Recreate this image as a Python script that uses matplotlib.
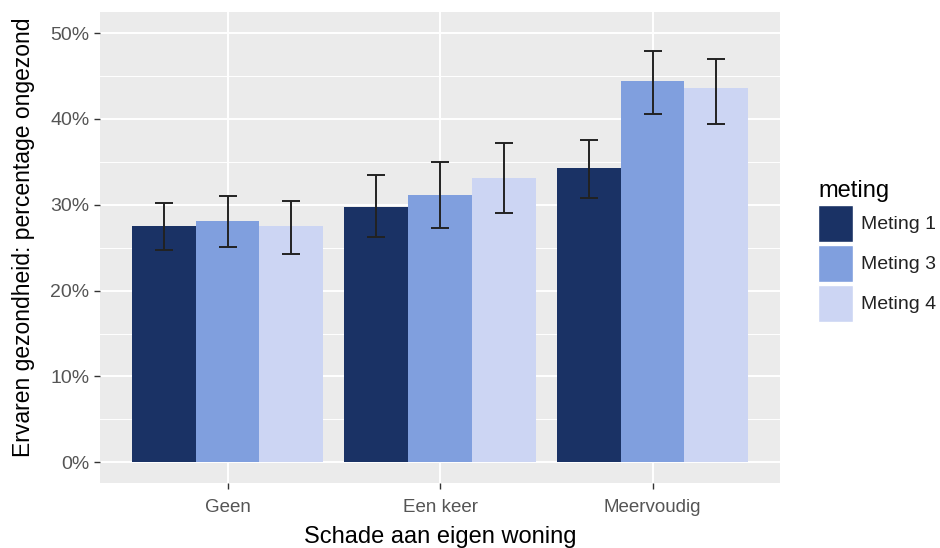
import numpy as np
import matplotlib
matplotlib.use("Agg")
import matplotlib.pyplot as plt
from matplotlib.patches import Patch

plt.rcParams['font.family'] = ['Liberation Sans', 'DejaVu Sans']

############################################
# DATA
############################################

categories = ["Geen", "Een keer", "Meervoudig"]
series = ["Meting 1", "Meting 3", "Meting 4"]

# percentage ongezond per meting, one value per category
pct = {
    "Meting 1": [27.5, 29.7, 34.3],
    "Meting 3": [28.1, 31.1, 44.4],
    "Meting 4": [27.5, 33.1, 43.6],
}
ci_low = {
    "Meting 1": [24.7, 26.3, 30.8],
    "Meting 3": [25.1, 27.3, 40.6],
    "Meting 4": [24.3, 29.1, 39.4],
}
ci_high = {
    "Meting 1": [30.2, 33.5, 37.6],
    "Meting 3": [31.0, 35.0, 47.9],
    "Meting 4": [30.5, 37.2, 47.0],
}

colors = {"Meting 1": "#1a3265", "Meting 3": "#809fde", "Meting 4": "#ccd5f3"}

yticks = [0, 10, 20, 30, 40, 50]
ytick_labels = ["0%", "10%", "20%", "30%", "40%", "50%"]

############################################
# PLOT
############################################

W, H = 940, 548
fig = plt.figure(figsize=(W / 100, H / 100), dpi=100)
ax = fig.add_axes([100 / W, 1 - 482.7 / H, 680 / W, 471 / H])

ax.set_facecolor("#ebebeb")
for s in ax.spines.values():
    s.set_visible(False)

# grid like ggplot theme_grey
for v in np.arange(5, 55, 10):
    ax.axhline(v, color="white", lw=0.7, zorder=0)
for v in yticks:
    ax.axhline(v, color="white", lw=1.4, zorder=0)
x = np.arange(len(categories))
for xv in x:
    ax.axvline(xv, color="white", lw=1.4, zorder=0)

width = 0.3
for i, name in enumerate(series):
    pos = x + (i - 1) * width
    vals = np.array(pct[name])
    lo = vals - np.array(ci_low[name])
    hi = np.array(ci_high[name]) - vals
    ax.bar(pos, vals, width=width, color=colors[name], zorder=2, label=name)
    ax.errorbar(pos, vals, yerr=[lo, hi], fmt="none", ecolor="#222222",
                elinewidth=1.4, capsize=6.5, capthick=1.4, zorder=3)

ax.set_xlim(-0.6, 2.6)
ax.set_ylim(-2.38, 52.5)
ax.set_xticks(x)
ax.set_xticklabels(categories)
ax.set_yticks(yticks)
ax.set_yticklabels(ytick_labels)
ax.tick_params(axis="both", colors="#333333", length=4.5, width=1,
               labelcolor="#555555")
ax.tick_params(axis="y", labelsize=14, pad=3)
ax.tick_params(axis="x", labelsize=13.5, pad=7)

ax.set_xlabel("Schade aan eigen woning", fontsize=17, color="black")
ax.set_ylabel("Ervaren gezondheid: percentage ongezond", fontsize=16.5,
              color="black")
ax.xaxis.set_label_coords(0.5, -0.092)
ax.yaxis.set_label_coords(-0.095, 0.522)

handles = [Patch(facecolor=colors[n], edgecolor="white", lw=1) for n in series]
leg = fig.legend(handles, series, title="meting", loc="upper left",
                 bbox_to_anchor=(818 / W, 1 - 180 / H), frameon=False,
                 borderpad=0, borderaxespad=0, fontsize=14, title_fontsize=17,
                 handlelength=1.8, handleheight=2.55, labelspacing=0.15,
                 handletextpad=0.4, alignment="left")
for t in leg.get_texts():
    t.set_color("#222222")

fig.savefig("out.png", dpi=100)
